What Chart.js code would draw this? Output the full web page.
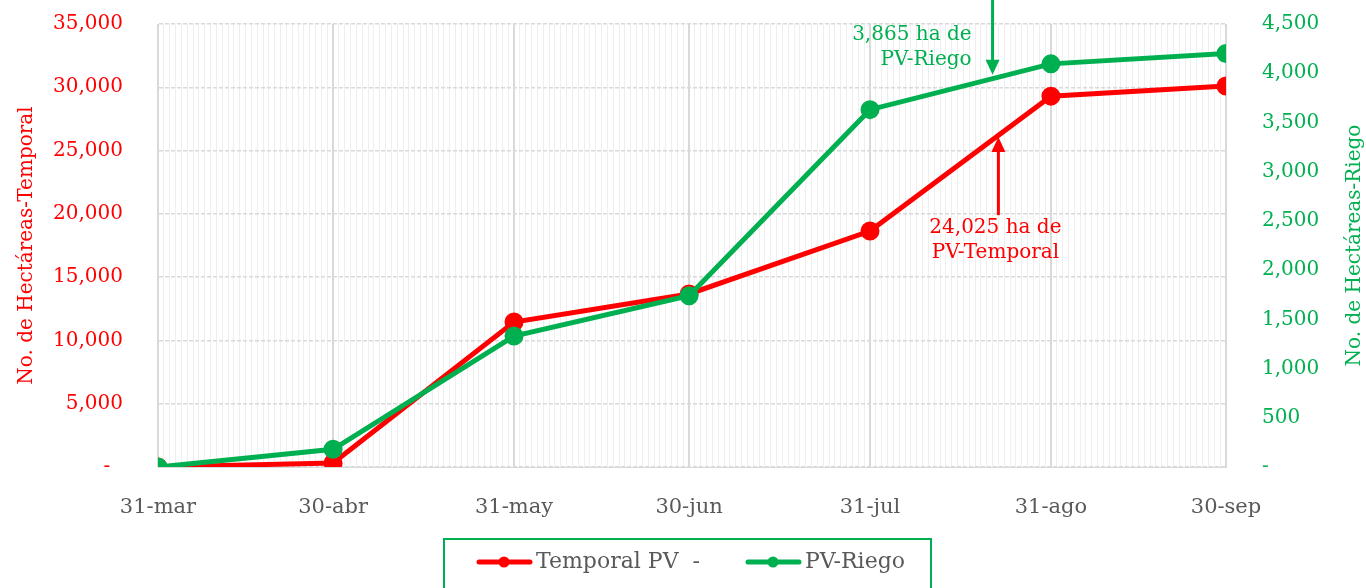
<!DOCTYPE html>
<html>
<head>
<meta charset="utf-8">
<script src="https://cdn.jsdelivr.net/npm/chart.js@4.4.1/dist/chart.umd.min.js"></script>
<style>
  html, body { margin: 0; padding: 0; background: #fff; overflow: hidden; }
  #wrap { width: 1366px; height: 620px; }
</style>
</head>
<body>
<div id="wrap"><canvas id="myChart"></canvas></div>
<script>
// fechas de corte (dias desde 31-mar)
const fechas = ['31-mar', '30-abr', '31-may', '30-jun', '31-jul', '31-ago', '30-sep'];
const dias = [0, 30, 61, 91, 122, 153, 183];

// hectareas acumuladas
const temporal = [0, 320, 11450, 13670, 18640, 29300, 30100];
const riego = [0, 180, 1330, 1740, 3630, 4095, 4200];

const ROJO = '#FF0000';
const VERDE = '#00B050';
const GRIS = '#595959';
const FUENTE = "'DejaVu Serif', serif";

// notas con flecha
const notas = [
  { texto: ['3,865 ha de', 'PV-Riego'], dia: 143, valor: 3985, desde: null, eje: 'y1', color: VERDE },
  { texto: ['24,025 ha de', 'PV-Temporal'], dia: 144, valor: 26070, desde: 19900, eje: 'y', color: ROJO }
];

const toPoints = (vals) => vals.map((v, i) => ({ x: dias[i], y: v }));

// icono de leyenda: linea con punto, desplazado a la derecha del hueco
const legendIcon = color => {
  const c = document.createElement('canvas');
  c.width = 96; c.height = 14;
  const g = c.getContext('2d');
  g.strokeStyle = color; g.lineWidth = 5; g.lineCap = 'round';
  g.beginPath(); g.moveTo(34, 7); g.lineTo(85, 7); g.stroke();
  g.fillStyle = color;
  g.beginPath(); g.arc(59, 7, 5.5, 0, Math.PI * 2); g.fill();
  return c;
};

const arrowPlugin = {
  id: 'flechas',
  afterDatasetsDraw(chart) {
    const { ctx } = chart;
    const xs = chart.scales.x;
    ctx.save();
    ctx.font = '20px ' + FUENTE;
    ctx.textBaseline = 'middle';
    notas.forEach(n => {
      const ys = chart.scales[n.eje];
      const x = xs.getPixelForValue(n.dia);
      const tip = ys.getPixelForValue(n.valor);
      const tail = n.desde === null ? 0 : ys.getPixelForValue(n.desde);
      const dir = tail < tip ? 1 : -1;
      ctx.strokeStyle = n.color; ctx.fillStyle = n.color; ctx.lineWidth = 3;
      ctx.beginPath(); ctx.moveTo(x, tail); ctx.lineTo(x, tip - dir * 12); ctx.stroke();
      ctx.beginPath();
      ctx.moveTo(x, tip);
      ctx.lineTo(x - 7, tip - dir * 15);
      ctx.lineTo(x + 7, tip - dir * 15);
      ctx.closePath(); ctx.fill();
      if (dir === 1) {
        ctx.textAlign = 'right';
        n.texto.forEach((t, i) => ctx.fillText(t, x - 21, 35 + i * 25));
      } else {
        ctx.textAlign = 'center';
        n.texto.forEach((t, i) => ctx.fillText(t, x - 3, tail + 13 + i * 25));
      }
    });
    ctx.restore();
  }
};

// titulo del eje derecho, leido de abajo hacia arriba
const rightTitle = {
  id: 'rightTitle',
  afterDraw(chart) {
    const { ctx, chartArea } = chart;
    ctx.save();
    ctx.translate(1355, (chartArea.top + chartArea.bottom) / 2);
    ctx.rotate(-Math.PI / 2);
    ctx.font = '20px ' + FUENTE;
    ctx.fillStyle = VERDE;
    ctx.textAlign = 'center';
    ctx.textBaseline = 'middle';
    ctx.fillText('No. de Hectáreas-Riego', 0, 0);
    ctx.restore();
  }
};

const legendBox = {
  id: 'legendBox',
  afterDraw(chart) {
    const hb = chart.legend.legendHitBoxes;
    if (!hb || !hb.length) return;
    const a = hb[0], b = hb[hb.length - 1];
    const { ctx } = chart;
    const left = a.left - 17;
    const right = b.left + b.width + 26;
    ctx.save();
    ctx.strokeStyle = VERDE; ctx.lineWidth = 2;
    ctx.strokeRect(left, a.top - 12, right - left, 80);
    ctx.restore();
  }
};

const noPad = s => { s.paddingTop = 0; s.paddingBottom = 0; };

const config = {
  type: 'line',
  data: {
    datasets: [
      {
        label: 'Temporal PV  -',
        data: toPoints(temporal),
        yAxisID: 'y',
        borderColor: ROJO,
        backgroundColor: ROJO,
        borderWidth: 5,
        pointRadius: 7,
        pointHoverRadius: 7,
        order: 2
      },
      {
        label: 'PV-Riego',
        data: toPoints(riego),
        yAxisID: 'y1',
        borderColor: VERDE,
        backgroundColor: VERDE,
        borderWidth: 5,
        pointRadius: 7,
        pointHoverRadius: 7,
        order: 1
      }
    ]
  },
  options: {
    responsive: true,
    maintainAspectRatio: false,
    animation: false,
    layout: { padding: { top: 24, bottom: 37 } },
    font: { family: FUENTE },
    scales: {
      x: {
        type: 'linear',
        min: 0,
        max: 183,
        afterBuildTicks: scale => {
          const t = [];
          for (let d = 0; d <= 183; d++) t.push({ value: d });
          scale.ticks = t;
        },
        afterFit: s => { s.height = 54; },
        ticks: {
          autoSkip: false,
          maxRotation: 0,
          minRotation: 0,
          padding: 28,
          color: GRIS,
          font: { family: FUENTE, size: 21 },
          callback: v => {
            const i = dias.indexOf(v);
            return i >= 0 ? fechas[i] : '';
          }
        },
        grid: {
          drawTicks: false,
          color: ctx => dias.includes(ctx.tick && ctx.tick.value) ? '#d9d9d9' : '#efefef',
          lineWidth: ctx => dias.includes(ctx.tick && ctx.tick.value) ? 2 : 1
        },
        border: { color: '#d9d9d9' }
      },
      y: {
        position: 'left',
        min: 0,
        max: 35000,
        afterFit: s => { s.width = 158; noPad(s); },
        ticks: {
          stepSize: 5000,
          padding: 35,
          color: ROJO,
          font: { family: FUENTE, size: 20 },
          callback: v => v === 0 ? '-  ' : v.toLocaleString('en-US')
        },
        grid: { drawTicks: false, color: '#d9d9d9', lineWidth: 1.5 },
        border: { dash: [4, 2], color: '#d9d9d9' },
        title: {
          display: true,
          text: 'No. de Hectáreas-Temporal',
          color: ROJO,
          font: { family: FUENTE, size: 20 },
          padding: { top: 15 }
        }
      },
      y1: {
        position: 'right',
        min: 0,
        max: 4500,
        afterFit: s => { s.width = 140; noPad(s); },
        ticks: {
          stepSize: 500,
          padding: 36,
          color: VERDE,
          font: { family: FUENTE, size: 20 },
          callback: v => v === 0 ? '-' : v.toLocaleString('en-US')
        },
        grid: { drawOnChartArea: false, drawTicks: false },
        border: { display: false }
      }
    },
    plugins: {
      legend: {
        position: 'bottom',
        labels: {
          usePointStyle: true,
          pointStyleWidth: 64,
          boxHeight: 14,
          padding: 30,
          color: GRIS,
          font: { family: FUENTE, size: 22 },
          sort: (a, b) => a.datasetIndex - b.datasetIndex,
          generateLabels: chart => chart.data.datasets.map((ds, i) => ({
            text: ds.label,
            datasetIndex: i,
            pointStyle: legendIcon(ds.borderColor),
            fontColor: GRIS,
            lineWidth: 0,
            strokeStyle: 'transparent',
            fillStyle: 'transparent',
            hidden: false
          }))
        }
      },
      tooltip: { enabled: false }
    }
  },
  plugins: [arrowPlugin, rightTitle, legendBox]
};

const myChart = new Chart(document.getElementById('myChart'), config);
</script>
</body>
</html>
